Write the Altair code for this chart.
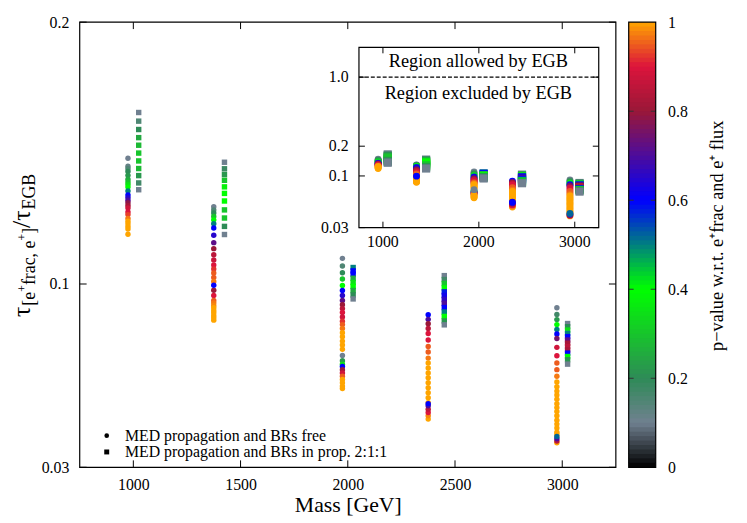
import altair as alt
import pandas as pd
import numpy as np

FONT = "Liberation Serif"

# ---------------- data ----------------
masses = [1000, 1400, 2000, 2400, 3000]

# circles: MED propagation and BRs free
c1000_tau = [0.148, 0.145, 0.144, 0.143, 0.1415, 0.140, 0.139, 0.138, 0.137, 0.1355, 0.134, 0.133,
             0.132, 0.131, 0.130, 0.129, 0.1275, 0.1265, 0.125, 0.124, 0.123, 0.122, 0.121, 0.119]
c1000_p = [0.1, 0.12, 0.15, 0.2, 0.22, 0.25, 0.3, 0.35, 0.4, 0.5, 0.6, 0.65,
           0.7, 0.78, 0.82, 0.88, 0.9, 0.93, 0.97, 1, 1, 1, 1, 1]

c1400_tau = [0.1295, 0.1283, 0.1271, 0.1258, 0.1245, 0.1230, 0.1214, 0.1186, 0.1158, 0.1135,
             0.1112, 0.1092, 0.1073, 0.1057, 0.1042, 0.1025, 0.1010, 0.0976, 0.0956, 0.0937,
             0.0928, 0.0918, 0.0909, 0.0899, 0.0890, 0.0880, 0.0871, 0.0862, 0.0995]
c1400_p = [0.1, 0.15, 0.2, 0.3, 0.4, 0.5, 0.6, 0.65, 0.72, 0.8,
           0.85, 0.87, 0.9, 0.92, 0.95, 0.95, 0.97, 0.8, 0.9, 0.95,
           0.97, 0.98, 1, 1, 1, 1, 1, 1, 0.6]

c2000_tau = [0.1098, 0.1069, 0.1043, 0.1019, 0.0994, 0.0975, 0.0956, 0.0937, 0.0921, 0.0906,
             0.0891, 0.0874, 0.0858, 0.0845, 0.0830, 0.0814, 0.0799, 0.0782, 0.0767, 0.0751,
             0.0707, 0.0694, 0.0685, 0.0673, 0.0660, 0.0648, 0.0635, 0.0623, 0.0610, 0.0601, 0.0727]
c2000_p = [0.1, 0.15, 0.2, 0.3, 0.4, 0.6, 0.65, 0.72, 0.8, 0.85,
           0.9, 0.88, 0.92, 0.95, 0.97, 1, 1, 1, 1, 1,
           0.22, 0.35, 0.6, 0.8, 0.88, 0.95, 1, 1, 1, 1, 0.1]

c2400_tau = [0.0883, 0.0865, 0.0848, 0.0830, 0.0811, 0.0786, 0.0761, 0.0740, 0.0717, 0.0698,
             0.0679, 0.0660, 0.0642, 0.0623, 0.0604, 0.0585, 0.0566, 0.0547, 0.0484, 0.0497,
             0.0509, 0.0522, 0.0535, 0.0543]
c2400_p = [0.6, 0.7, 0.8, 0.85, 0.9, 0.9, 0.95, 0.95, 0.97, 1,
           1, 1, 1, 1, 1, 1, 1, 1, 1, 0.98,
           0.9, 0.85, 0.7, 0.6]

c3000_tau = [0.0909, 0.0884, 0.0864, 0.0845, 0.0826, 0.0809, 0.0792, 0.0758, 0.0726, 0.0698,
             0.0673, 0.0648, 0.0626, 0.0608, 0.0591, 0.0576, 0.0560, 0.0543, 0.0528, 0.0513,
             0.0497, 0.0480, 0.0465, 0.0450, 0.0434, 0.0425, 0.0394, 0.0400, 0.0409, 0.0418]
c3000_p = [0.1, 0.17, 0.22, 0.4, 0.5, 0.6, 0.75, 0.88, 0.9, 0.95,
           0.95, 0.97, 1, 1, 1, 1, 1, 1, 1, 1,
           1, 1, 1, 1, 1, 1, 1, 0.85, 0.7, 0.52]

# squares: MED propagation and BRs in prop. 2:1:1
s1000_tau = [0.1655, 0.1622, 0.1590, 0.1559, 0.1530, 0.1500, 0.1470, 0.1441, 0.1414, 0.1386, 0.1360]
s1000_p = [0.1, 0.15, 0.2, 0.25, 0.28, 0.3, 0.3, 0.28, 0.22, 0.17, 0.1]

s1400_tau = [0.1465, 0.1440, 0.1418, 0.1396, 0.1371, 0.1346, 0.1317, 0.1283, 0.1252, 0.1220, 0.1189]
s1400_p = [0.1, 0.18, 0.22, 0.3, 0.38, 0.4, 0.4, 0.3, 0.3, 0.2, 0.1]

s2000_tau = [0.1063, 0.1050, 0.1038, 0.1022, 0.1006, 0.0991, 0.0975, 0.0958, 0.0943]
s2000_p = [0.5, 0.6, 0.6, 0.25, 0.35, 0.4, 0.25, 0.2, 0.1]

s2400_tau = [0.1032, 0.1017, 0.1002, 0.0985, 0.0970, 0.0956, 0.0941, 0.0926, 0.0910, 0.0893,
             0.0876, 0.0859, 0.0844]
s2400_p = [0.1, 0.17, 0.3, 0.4, 0.58, 0.62, 0.66, 0.7, 0.6, 0.5, 0.4, 0.22, 0.1]

s3000_tau = [0.0849, 0.0837, 0.0824, 0.0811, 0.0799, 0.0786, 0.0774, 0.0761, 0.0748, 0.0736,
             0.0723, 0.0711, 0.0694]
s3000_p = [0.1, 0.2, 0.35, 0.5, 0.6, 0.72, 0.82, 0.85, 0.82, 0.6, 0.4, 0.22, 0.1]

main_xticks = [1000, 1500, 2000, 2500, 3000]
main_yticks = [0.03, 0.1, 0.2]
inset_xticks = [1000, 2000, 3000]
inset_yticks = [0.03, 0.1, 0.2, 1.0]
inset_ylabels = ["0.03", "0.1", "0.2", "1.0"]
cbar_ticks = [0, 0.2, 0.4, 0.6, 0.8, 1]

pal_stops = [0, 0.1, 0.2, 0.4, 0.6, 0.8, 0.9, 1]
pal_colors = ["#000000", "#708090", "#2e8b57", "#00ff00", "#0000ff", "#9a1838", "#dc143c", "#ffa500"]

# ---------------- tables ----------------
circle_sets = [c1000_tau, c1400_tau, c2000_tau, c2400_tau, c3000_tau]
circle_ps = [c1000_p, c1400_p, c2000_p, c2400_p, c3000_p]
square_sets = [s1000_tau, s1400_tau, s2000_tau, s2400_tau, s3000_tau]
square_ps = [s1000_p, s1400_p, s2000_p, s2400_p, s3000_p]
sq_main_off = [25, 25, 25, 50, 25]

rows_c, rows_s = [], []
for m, ts, ps in zip(masses, circle_sets, circle_ps):
    for t, p in zip(ts, ps):
        rows_c.append({"xm": m - 25, "xi": m - 50, "tau": t, "p": p})
for m, off, ts, ps in zip(masses, sq_main_off, square_sets, square_ps):
    for t, p in zip(ts, ps):
        rows_s.append({"xm": m + off, "xi": m + 50, "tau": t, "p": p})
df_c = pd.DataFrame(rows_c)
df_s = pd.DataFrame(rows_s)

cb_lo = np.round(np.arange(0, 1, 0.01), 3)
df_cb = pd.DataFrame({"lo": cb_lo, "hi": np.minimum(cb_lo + 0.012, 1.0), "mid": cb_lo + 0.005})

dummy = pd.DataFrame({"d": [0]})

# ---------------- scales ----------------
W, H = 542, 450
xs_main = alt.Scale(domain=[750, 3250], nice=False, zero=False)
ys_main = alt.Scale(domain=[0.03, 0.2], nice=False, zero=False)
IX0, IX1, IY0, IY1 = 282.3, 524.7, 207.7, 25.5
xs_in = alt.Scale(domain=[750, 3250], range=[IX0, IX1], nice=False, zero=False)
ys_in = alt.Scale(type="log", domain=[0.03, 2], range=[IY0, IY1], nice=False)
ys_cb = alt.Scale(domain=[0, 1], nice=False, zero=False)
cscale = alt.Scale(domain=pal_stops, range=pal_colors, interpolate="rgb")


def txt(s, x, y, size, align="left", baseline="middle", angle=0):
    return alt.Chart(dummy).mark_text(
        align=align, baseline=baseline, font=FONT, fontSize=size, angle=angle, color="black"
    ).encode(x=alt.value(x), y=alt.value(y), text=alt.value(s))


layers = []

# main points
layers.append(alt.Chart(df_c).mark_circle(size=30, opacity=1).encode(
    x=alt.X("xm:Q", scale=xs_main, axis=alt.Axis(
        orient="bottom", values=main_xticks, format="d", title="Mass [GeV]", titleFontSize=22,
        titleFontWeight="normal", titleBaseline="alphabetic", titleY=45,
        labelFont=FONT, titleFont=FONT, labelColor="black", titleColor="black",
        labelFontSize=16, labelPadding=9, tickSize=0, domain=False, grid=False)),
    y=alt.Y("tau:Q", scale=ys_main, axis=alt.Axis(
        orient="left", values=main_yticks, format="~g", title=None,
        labelFont=FONT, labelColor="black",
        labelFontSize=16, labelPadding=11, tickSize=0, domain=False, grid=False)),
    color=alt.Color("p:Q", scale=cscale, legend=None)))
layers.append(alt.Chart(df_s).mark_square(size=30, opacity=1).encode(
    x=alt.X("xm:Q", scale=xs_main, axis=None),
    y=alt.Y("tau:Q", scale=ys_main, axis=None),
    color=alt.Color("p:Q", scale=cscale, legend=None)))

# main frame
layers.append(alt.Chart(dummy).mark_rect(fill=None, stroke="black", strokeWidth=1.2).encode(
    x=alt.value(0), x2=alt.value(W), y=alt.value(0), y2=alt.value(H)))

# main inward ticks
dfx = pd.DataFrame({"v": main_xticks})
dfy = pd.DataFrame({"v": main_yticks})
for y0, y1 in [(H, H - 7), (0, 7)]:
    layers.append(alt.Chart(dfx).mark_rule(color="black", strokeWidth=1).encode(
        x=alt.X("v:Q", scale=xs_main, axis=None), y=alt.value(y0), y2=alt.value(y1)))
for x0, x1 in [(0, 7), (W, W - 7)]:
    layers.append(alt.Chart(dfy).mark_rule(color="black", strokeWidth=1).encode(
        y=alt.Y("v:Q", scale=ys_main, axis=None), x=alt.value(x0), x2=alt.value(x1)))

# legend
layers.append(alt.Chart(dummy).mark_point(shape="circle", filled=True, size=22, color="black", opacity=1).encode(
    x=alt.value(27.3), y=alt.value(418)))
layers.append(alt.Chart(dummy).mark_point(shape="square", filled=True, size=25, color="black", opacity=1).encode(
    x=alt.value(27.3), y=alt.value(434.5)))
layers.append(txt("MED propagation and BRs free", 45.7, 418, 16))
layers.append(txt("MED propagation and BRs in prop. 2:1:1", 45.7, 434.5, 16))

# y title pieces (rotated)
MB, SB, PB = -50, -45, -54
for s, size, bx, sy in [("τ", 26, MB, 298), ("[e", 18, SB, 286.6), ("+", 12, PB, 272.6),
                        ("frac, e", 18, SB, 265.8), ("+", 12, PB, 220.8), ("]", 18, SB, 214),
                        ("/τ", 26, MB, 208), ("EGB", 18, SB, 189.3)]:
    layers.append(txt(s, bx, sy, size, align="left", baseline="alphabetic", angle=270))

# ---------------- inset ----------------
layers.append(alt.Chart(dummy).mark_rect(fill="white", stroke="black", strokeWidth=1.2).encode(
    x=alt.value(IX0), x2=alt.value(IX1), y=alt.value(IY1), y2=alt.value(IY0)))
layers.append(alt.Chart(pd.DataFrame({"v": [1.0]})).mark_rule(
    color="black", strokeWidth=1.4, strokeDash=[4, 2]).encode(
    y=alt.Y("v:Q", scale=ys_in, axis=None), x=alt.value(IX0), x2=alt.value(IX1)))
layers.append(alt.Chart(df_c).mark_circle(size=48, opacity=1).encode(
    x=alt.X("xi:Q", scale=xs_in, axis=None),
    y=alt.Y("tau:Q", scale=ys_in, axis=None),
    color=alt.Color("p:Q", scale=cscale, legend=None)))
layers.append(alt.Chart(df_s).mark_square(size=68, opacity=1).encode(
    x=alt.X("xi:Q", scale=xs_in, axis=None),
    y=alt.Y("tau:Q", scale=ys_in, axis=None),
    color=alt.Color("p:Q", scale=cscale, legend=None)))
dfix = pd.DataFrame({"v": inset_xticks})
dfiy = pd.DataFrame({"v": inset_yticks, "lab": inset_ylabels})
for y0, y1 in [(IY0, IY0 - 6), (IY1, IY1 + 6)]:
    layers.append(alt.Chart(dfix).mark_rule(color="black", strokeWidth=1).encode(
        x=alt.X("v:Q", scale=xs_in, axis=None), y=alt.value(y0), y2=alt.value(y1)))
for x0, x1 in [(IX0, IX0 + 6), (IX1, IX1 - 6)]:
    layers.append(alt.Chart(dfiy).mark_rule(color="black", strokeWidth=1).encode(
        y=alt.Y("v:Q", scale=ys_in, axis=None), x=alt.value(x0), x2=alt.value(x1)))
layers.append(alt.Chart(dfiy).mark_text(align="right", baseline="middle", font=FONT, fontSize=16, color="black").encode(
    y=alt.Y("v:Q", scale=ys_in, axis=None), x=alt.value(IX0 - 10.5), text="lab:N"))
layers.append(alt.Chart(dfix).mark_text(align="center", baseline="middle", font=FONT, fontSize=16, color="black").encode(
    x=alt.X("v:Q", scale=xs_in, axis=None), y=alt.value(IY0 + 15), text=alt.Text("v:Q", format="d")))
layers.append(txt("Region allowed by EGB", 403, 39, 18.5, align="center"))
layers.append(txt("Region excluded by EGB", 403, 72, 18.5, align="center"))

# ---------------- colour bar ----------------
CB0, CB1 = 555, 582.3
layers.append(alt.Chart(df_cb).mark_rect().encode(
    x=alt.value(CB0), x2=alt.value(CB1),
    y=alt.Y("lo:Q", scale=ys_cb, axis=alt.Axis(
        orient="right", offset=CB1 - W, values=cbar_ticks, format="~g", title=None,
        labelFont=FONT, labelColor="black",
        labelFontSize=16, labelPadding=12, tickSize=0, domain=False, grid=False)),
    y2="hi:Q",
    color=alt.Color("mid:Q", scale=cscale, legend=None)))
dfcbt = pd.DataFrame({"v": cbar_ticks[1:-1]})
for x0, x1 in [(CB0, CB0 + 5), (CB1, CB1 - 5)]:
    layers.append(alt.Chart(dfcbt).mark_rule(color="#333333", strokeWidth=1).encode(
        y=alt.Y("v:Q", scale=ys_cb, axis=None), x=alt.value(x0), x2=alt.value(x1)))
layers.append(alt.Chart(dummy).mark_rect(fill=None, stroke="black", strokeWidth=1.2).encode(
    x=alt.value(CB0), x2=alt.value(CB1), y=alt.value(0), y2=alt.value(H)))
layers.append(txt("p−value w.r.t. e⁺frac and e⁺ flux", 644, 216, 18.5, align="center", angle=270))

chart = alt.layer(*layers).resolve_scale(
    x="independent", y="independent"
).properties(
    width=W, height=H, background="white",
    padding={"left": 72.5, "top": 11.5, "right": 124.5, "bottom": 53.5},
    autosize=alt.AutoSizeParams(type="none"),
).configure_view(
    strokeWidth=0
).configure_axis(
    labelFont=FONT, titleFont=FONT, labelColor="black", titleColor="black"
)

chart.save("out.html", embed_options={"renderer": "svg", "actions": False})
